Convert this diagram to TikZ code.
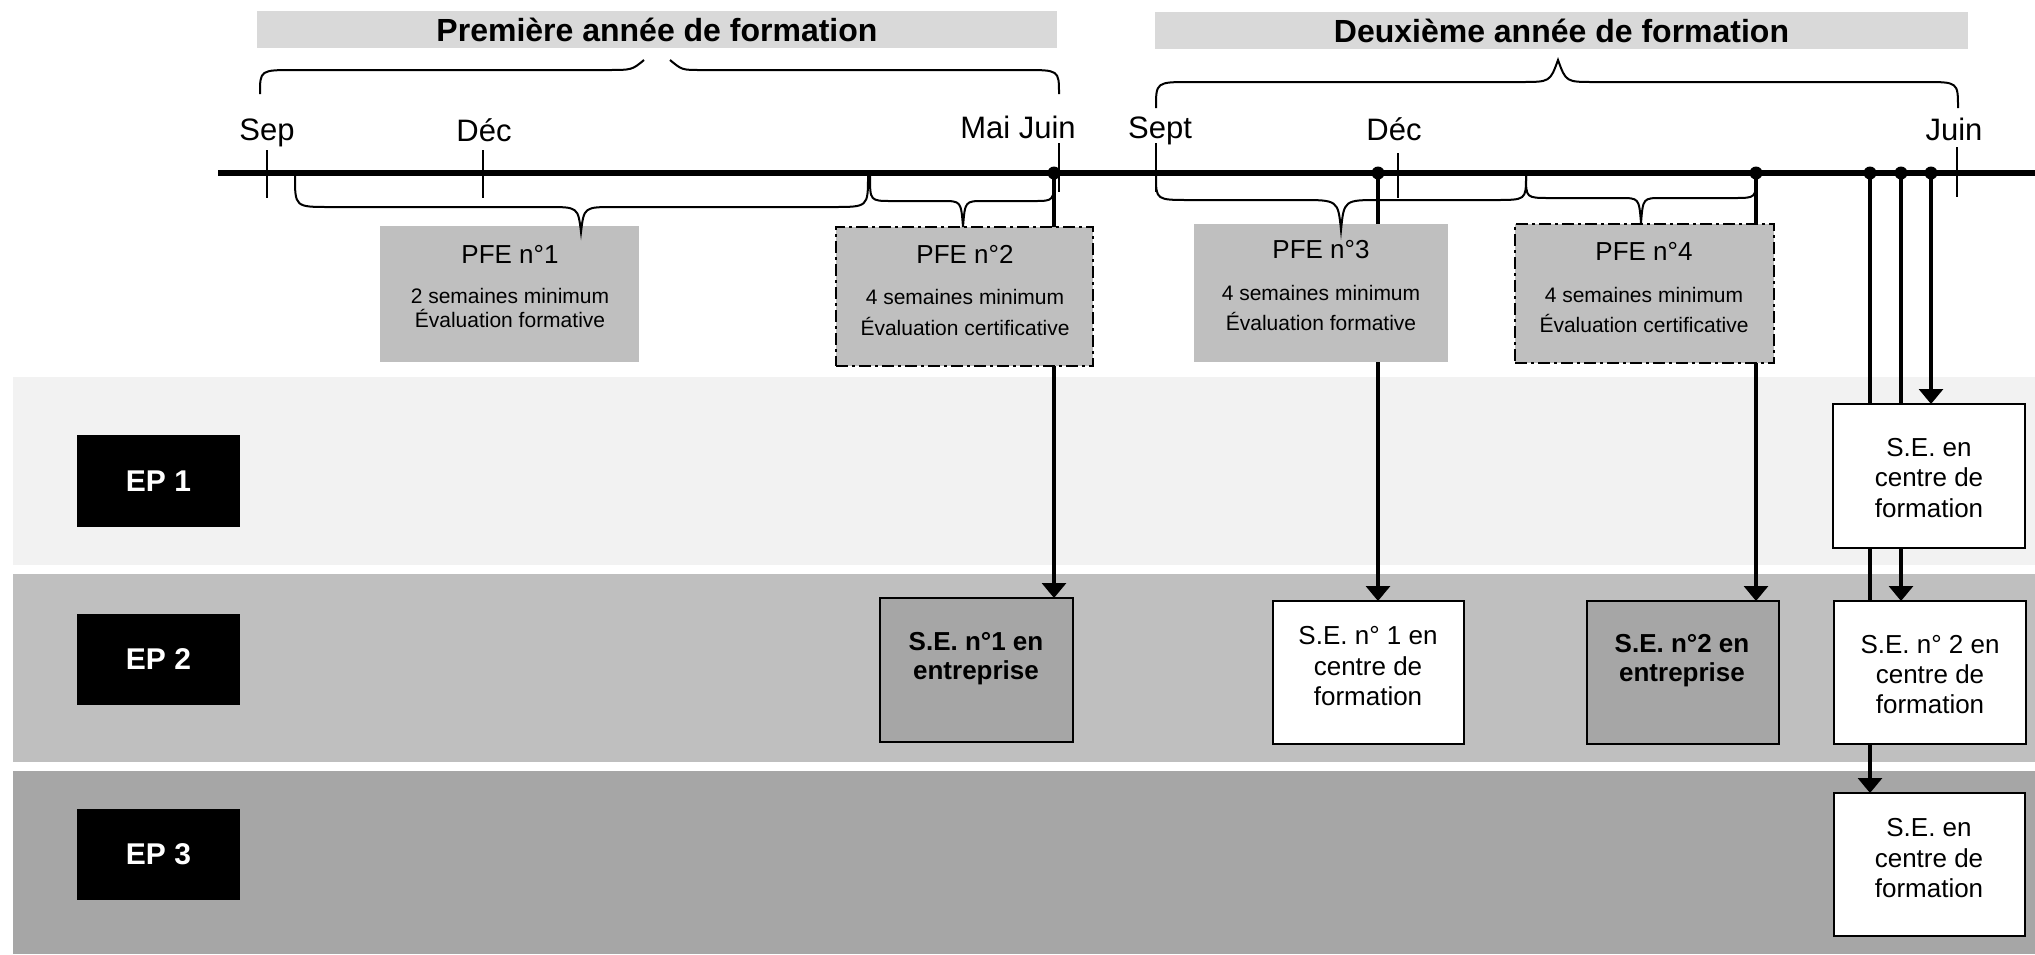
\documentclass[tikz,border=0pt]{standalone}
\usepackage{fontspec}
\setmainfont{Liberation Sans}
\usetikzlibrary{arrows.meta}
\pgfdeclarelayer{bg}
\pgfdeclarelayer{conn}
\pgfdeclarelayer{front}
\pgfsetlayers{bg,conn,main,front}
\definecolor{titlegray}{HTML}{D9D9D9}
\definecolor{pfegray}{HTML}{BFBFBF}
\definecolor{bandA}{HTML}{F2F2F2}
\definecolor{bandB}{HTML}{BFBFBF}
\definecolor{bandC}{HTML}{A6A6A6}
\definecolor{entgray}{HTML}{A6A6A6}
\begin{document}
\begin{tikzpicture}[x=0.5pt,y=-0.5pt,
  box/.style={rectangle, anchor=north west, inner sep=0pt, outer sep=0pt},
  titlebar/.style={box, fill=titlegray, font=\bfseries\fontsize{16}{19}\selectfont},
  pfebox/.style={box, fill=pfegray},
  pfedash/.style={pfebox, draw=black, line width=1pt, dash pattern=on 6pt off 2pt on 1.5pt off 2pt},
  sebox/.style={box, draw=black, line width=1pt, fill=white},
  entbox/.style={sebox, fill=entgray},
  eplabel/.style={box, fill=black, text=white, font=\bfseries\fontsize{15}{18}\selectfont},
  month/.style={anchor=base, inner sep=0pt, font=\fontsize{15.5}{18}\selectfont},
  pfetitle/.style={anchor=base, inner sep=0pt, font=\fontsize{13}{15}\selectfont},
  pfesub/.style={anchor=base, inner sep=0pt, font=\fontsize{10.5}{12}\selectfont},
  setext/.style={anchor=base, inner sep=0pt, font=\fontsize{13}{15}\selectfont},
  sebold/.style={anchor=base, inner sep=0pt, font=\bfseries\fontsize{13}{15}\selectfont},
  dot/.style={circle, fill=black, inner sep=0pt, minimum size=6.5pt},
  tickline/.style={line width=1pt},
  bracepath/.style={line width=1pt},
  arr/.style={line width=1.6pt, -{Triangle[length=7.5pt,width=12pt]}},
  link/.style={line width=1.6pt}
]
\useasboundingbox (0,0) rectangle (2035,954);

% bands
\begin{pgfonlayer}{bg}
\fill[bandA] (13,377) rectangle (2035,565);
\fill[bandB] (13,574) rectangle (2035,762);
\fill[bandC] (13,771) rectangle (2035,954);
\end{pgfonlayer}

% title bars
\node[titlebar, minimum width=400pt, minimum height=18.5pt] (y1) at (257,11) {Première année de formation};
\node[titlebar, minimum width=406.5pt, minimum height=18.5pt] (y2) at (1155,12) {Deuxième année de formation};

% month labels
\node[month] (mSep) at (267,140) {Sep};
\node[month] (mDec) at (484,141) {Déc};
\node[month] (mMai) at (1018,138) {Mai Juin};
\node[month] (mSept) at (1160,138) {Sept};
\node[month] (mDec2) at (1394,140) {Déc};
\node[month] (mJuin) at (1954,140) {Juin};

% PFE boxes
\node[pfebox, minimum width=129.5pt, minimum height=68pt] (pfe1) at (380,226) {};
\node[pfedash, minimum width=128.5pt, minimum height=69.5pt] (pfe2) at (836,227) {};
\node[pfebox, minimum width=127pt, minimum height=69pt] (pfe3) at (1194,224) {};
\node[pfedash, minimum width=129.5pt, minimum height=69.5pt] (pfe4) at (1515,224) {};

\node[pfetitle] (p1a) at (510,263) {PFE n°1};
\node[pfesub] (p1b) at (510,303) {2 semaines minimum};
\node[pfesub] (p1c) at (510,327) {Évaluation formative};
\node[pfetitle] (p2a) at (965,263) {PFE n°2};
\node[pfesub] (p2b) at (965,304) {4 semaines minimum};
\node[pfesub] (p2c) at (965,335) {Évaluation certificative};
\node[pfetitle] (p3a) at (1321,258) {PFE n°3};
\node[pfesub] (p3b) at (1321,300) {4 semaines minimum};
\node[pfesub] (p3c) at (1321,330) {Évaluation formative};
\node[pfetitle] (p4a) at (1644,260) {PFE n°4};
\node[pfesub] (p4b) at (1644,302) {4 semaines minimum};
\node[pfesub] (p4c) at (1644,332) {Évaluation certificative};

% EP labels
\node[eplabel, minimum width=81.5pt, minimum height=46pt] (ep1) at (77,435) {EP 1};
\node[eplabel, minimum width=81.5pt, minimum height=45.5pt] (ep2) at (77,614) {EP 2};
\node[eplabel, minimum width=81.5pt, minimum height=45.5pt] (ep3) at (77,809) {EP 3};

% S.E. boxes
\node[entbox, minimum width=96.5pt, minimum height=72pt] (se1) at (880,598) {};
\node[sebox, minimum width=95.5pt, minimum height=71.5pt] (se2) at (1273,601) {};
\node[entbox, minimum width=96pt, minimum height=71.5pt] (se3) at (1587,601) {};
\node[sebox, minimum width=96pt, minimum height=72pt] (se4) at (1833,404) {};
\node[sebox, minimum width=96pt, minimum height=71.5pt] (se5) at (1834,601) {};
\node[sebox, minimum width=95.5pt, minimum height=71.5pt] (se6) at (1834,793) {};

\node[sebold] (s1a) at (976,650) {S.E. n°1 en};
\node[sebold] (s1b) at (976,679) {entreprise};
\node[setext] (s2a) at (1368,644) {S.E. n° 1 en};
\node[setext] (s2b) at (1368,675) {centre de};
\node[setext] (s2c) at (1368,705) {formation};
\node[sebold] (s3a) at (1682,652) {S.E. n°2 en};
\node[sebold] (s3b) at (1682,681) {entreprise};
\node[setext] (s4a) at (1929,456) {S.E. en};
\node[setext] (s4b) at (1929,486) {centre de};
\node[setext] (s4c) at (1929,517) {formation};
\node[setext] (s5a) at (1930,653) {S.E. n° 2 en};
\node[setext] (s5b) at (1930,683) {centre de};
\node[setext] (s5c) at (1930,713) {formation};
\node[setext] (s6a) at (1929,836) {S.E. en};
\node[setext] (s6b) at (1929,867) {centre de};
\node[setext] (s6c) at (1929,897) {formation};

% timeline, ticks, dots, braces
\begin{pgfonlayer}{front}
\coordinate (tlL) at (218,173);
\coordinate (tlR) at (2035,173);
\draw[line width=3pt] (tlL) -- (tlR);
\draw[tickline] (267,150) -- (267,198);
\draw[tickline] (483,150) -- (483,198);
\draw[tickline] (1059,143) -- (1059,192);
\draw[tickline] (1156,143) -- (1156,192);
\draw[tickline] (1398,153) -- (1398,198);
\draw[tickline] (1957,147) -- (1957,197);
\node[dot] (d1) at (1054,173) {};
\node[dot] (d2) at (1378,173) {};
\node[dot] (d3) at (1756,173) {};
\node[dot] (d4) at (1870,173) {};
\node[dot] (d5) at (1901,173) {};
\node[dot] (d6) at (1931,173) {};
% top braces
\draw[bracepath] (260,94) .. controls (260,70) .. (295,70) -- (607,70) .. controls (632,70) .. (644,60);
\draw[bracepath] (670,60) .. controls (682,70) .. (701,70) -- (1024,70) .. controls (1059,70) .. (1059,94);
\draw[bracepath] (1156,108) .. controls (1156,82) .. (1191,82) -- (1521,82) .. controls (1550,82) .. (1558,60) .. controls (1566,82) .. (1594,82) -- (1924,82) .. controls (1958,82) .. (1958,108);
% lower braces
\draw[bracepath] (295,176) .. controls (295,207) .. (330,207) -- (547,207) .. controls (578,207) .. (581,232) .. controls (584,207) .. (615,207) -- (833,207) .. controls (868,207) .. (868,176);
\draw[bracepath] (870,176) .. controls (870,201) .. (892,201) -- (942,201) .. controls (961,201) .. (963,227) .. controls (965,201) .. (984,201) -- (1034,201) .. controls (1054,201) .. (1054,176);
\draw[bracepath] (1156,176) .. controls (1156,200) .. (1190,200) -- (1300,200) .. controls (1338,200) .. (1341,230) .. controls (1344,200) .. (1380,200) -- (1495,200) .. controls (1526,200) .. (1526,176);
\draw[bracepath] (1526,176) .. controls (1526,198) .. (1550,198) -- (1620,198) .. controls (1639,198) .. (1641,223) .. controls (1643,198) .. (1662,198) -- (1734,198) .. controls (1756,198) .. (1756,176);
\end{pgfonlayer}

% connectors
\begin{pgfonlayer}{conn}
\draw[arr] (d1.center) -- (d1.center |- se1.north);
\draw[arr] (d2.center) -- (d2.center |- se2.north);
\draw[arr] (d3.center) -- (d3.center |- se3.north);
\draw[arr] (d4.center) -- (d4.center |- se6.north);
\draw[arr] (d5.center) -- (d5.center |- se5.north);
\draw[arr] (d6.center) -- (d6.center |- se4.north);
\end{pgfonlayer}
\end{tikzpicture}
\end{document}
